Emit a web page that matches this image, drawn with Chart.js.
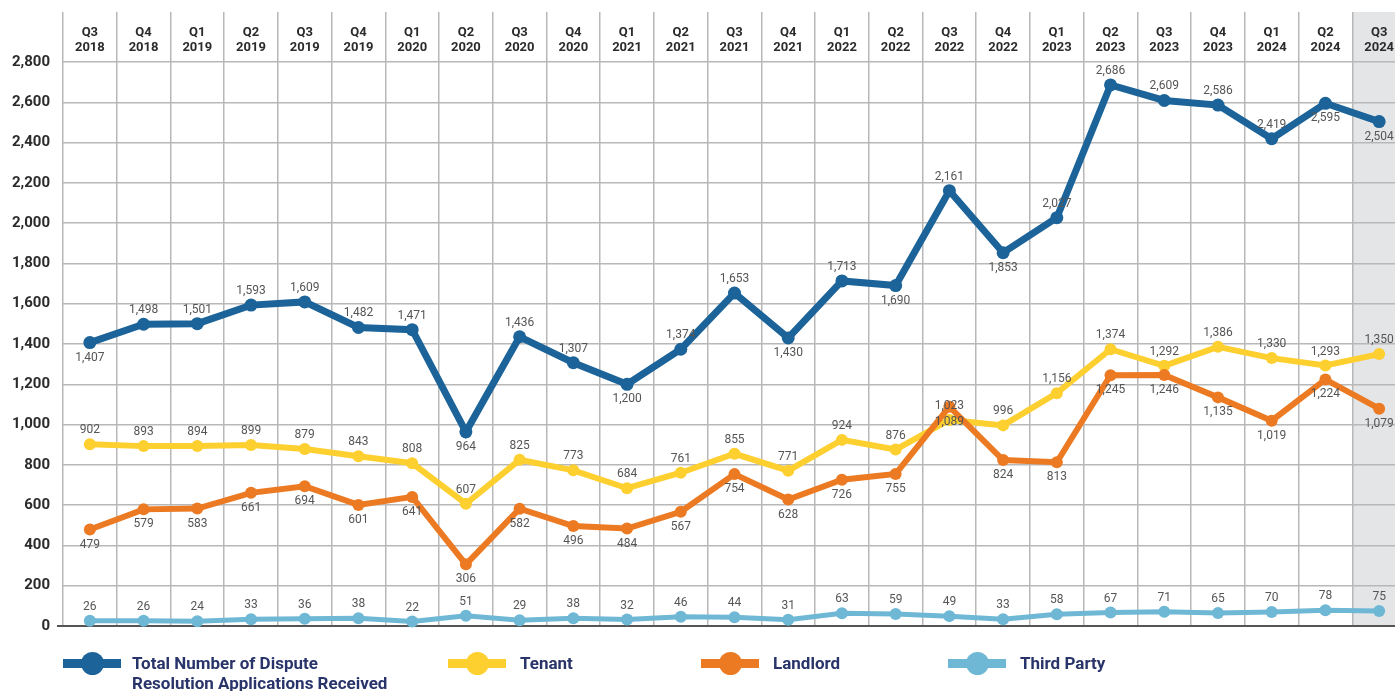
<!DOCTYPE html>
<html>
<head>
<meta charset="utf-8">
<title>Dispute Resolution Applications</title>
<script src="https://cdn.jsdelivr.net/npm/chart.js@4.4.1/dist/chart.umd.min.js"></script>
<style>
    html, body { margin: 0; padding: 0; background: #fff; overflow: hidden; }
    #wrap { position: relative; width: 1395px; height: 691px; overflow: hidden; }
    #c { position: absolute; left: 0; top: 0; }
    .item { position: absolute; top: 654px; }
    .bar { position: absolute; top: 5px; width: 58px; height: 9px; }
    .dot { position: absolute; top: -2px; left: 17.5px; width: 23px; height: 23px; border-radius: 50%; }
    .txt { position: absolute; top: -1px; white-space: nowrap; font: bold 17px Roboto, sans-serif; line-height: 20px; color: #29346a; }
</style>
</head>
<body>
<div id="wrap">
    <canvas id="c" width="1406" height="691"></canvas>
    <div id="legend"></div>
</div>
<script>
var quarters = ['Q3 2018', 'Q4 2018', 'Q1 2019', 'Q2 2019', 'Q3 2019', 'Q4 2019', 'Q1 2020', 'Q2 2020',
    'Q3 2020', 'Q4 2020', 'Q1 2021', 'Q2 2021', 'Q3 2021', 'Q4 2021', 'Q1 2022', 'Q2 2022',
    'Q3 2022', 'Q4 2022', 'Q1 2023', 'Q2 2023', 'Q3 2023', 'Q4 2023', 'Q1 2024', 'Q2 2024', 'Q3 2024'];

var total = [1407, 1498, 1501, 1593, 1609, 1482, 1471, 964, 1436, 1307, 1200, 1374, 1653,
    1430, 1713, 1690, 2161, 1853, 2027, 2686, 2609, 2586, 2419, 2595, 2504];
var tenant = [902, 893, 894, 899, 879, 843, 808, 607, 825, 773, 684, 761, 855,
    771, 924, 876, 1023, 996, 1156, 1374, 1292, 1386, 1330, 1293, 1350];
var landlord = [479, 579, 583, 661, 694, 601, 641, 306, 582, 496, 484, 567, 754,
    628, 726, 755, 1089, 824, 813, 1245, 1246, 1135, 1019, 1224, 1079];
var thirdParty = [26, 26, 24, 33, 36, 38, 22, 51, 29, 38, 32, 46, 44,
    31, 63, 59, 49, 33, 58, 67, 71, 65, 70, 78, 75];

var yMax = 2800;
var yStep = 200;

// indexes of the total series whose value sits under the point
var totalBelow = [0, 7, 10, 13, 15, 17, 23, 24];

var series = [
    { name: 'Total Number of Dispute\nResolution Applications Received', data: total, color: '#1b6399', width: 7, order: 0, below: function(i) { return totalBelow.indexOf(i) >= 0; } },
    { name: 'Tenant', data: tenant, color: '#fdcf2f', width: 6, order: 2, below: function() { return false; } },
    { name: 'Landlord', data: landlord, color: '#ec7a22', width: 6, order: 1, below: function() { return true; } },
    { name: 'Third Party', data: thirdParty, color: '#6eb8d5', width: 5, order: 3, below: function() { return false; } }
];

var fmt = function(v) { return Number(v).toLocaleString('en-US'); };

var shadeLast = {
    id: 'shadeLast',
    beforeDraw: function(chart) {
        var x = chart.scales.x, area = chart.chartArea, ctx = chart.ctx;
        var half = (x.getPixelForValue(1) - x.getPixelForValue(0)) / 2;
        var cx = x.getPixelForValue(quarters.length - 1);
        ctx.save();
        ctx.fillStyle = '#e4e5e7';
        ctx.fillRect(cx - half, x.bottom - 50, half * 2, area.bottom - x.bottom + 50);
        ctx.restore();
    }
};

var valueLabels = {
    id: 'valueLabels',
    afterDatasetsDraw: function(chart) {
        var ctx = chart.ctx;
        ctx.save();
        ctx.font = '12px Roboto, sans-serif';
        ctx.fillStyle = '#555';
        ctx.textAlign = 'center';
        ctx.textBaseline = 'middle';
        series.forEach(function(s, di) {
            chart.getDatasetMeta(di).data.forEach(function(pt, i) {
                var dy = s.below(i) ? 15 : -14;
                ctx.fillText(fmt(s.data[i]), pt.x, pt.y + dy);
            });
        });
        ctx.restore();
    }
};

new Chart(document.getElementById('c'), {
    type: 'line',
    data: {
        labels: quarters.map(function(q) { return q.split(' '); }),
        datasets: series.map(function(s) {
            return {
                label: s.name,
                data: s.data,
                borderColor: s.color,
                backgroundColor: s.color,
                borderWidth: s.width,
                pointRadius: s.width === 7 ? 6.5 : 6,
                pointBorderWidth: 0,
                pointBackgroundColor: s.color,
                tension: 0,
                order: s.order,
                clip: false
            };
        })
    },
    options: {
        responsive: false,
        devicePixelRatio: 1,
        animation: false,
        layout: { autoPadding: false, padding: { top: 12, bottom: 65, left: 0, right: 0 } },
        plugins: {
            legend: { display: false },
            tooltip: { enabled: false }
        },
        scales: {
            x: {
                position: 'top',
                offset: true,
                afterFit: function(s) { s.height = 50; },
                grid: { offset: true, color: '#b8b8b8', lineWidth: 1.5, tickLength: 50 },
                border: { display: false },
                ticks: {
                    padding: -43,
                    maxRotation: 0,
                    autoSkip: false,
                    color: '#2b2b2b',
                    font: { family: 'Roboto', weight: 'bold', size: 13, lineHeight: 1.15 }
                }
            },
            y: {
                min: 0,
                max: yMax,
                afterFit: function(s) { s.width = 63; },
                grid: {
                    color: function(c) { return c.tick && c.tick.value === 0 ? '#555' : '#b8b8b8'; },
                    lineWidth: function(c) { return c.tick && c.tick.value === 0 ? 2 : 1.5; },
                    tickColor: function(c) { return c.tick && c.tick.value === 0 ? '#555' : 'rgba(0,0,0,0)'; },
                    tickLength: 6
                },
                border: { display: false },
                ticks: {
                    stepSize: yStep,
                    padding: 7,
                    color: '#2b2b2b',
                    font: { family: 'Roboto', weight: 'bold', size: 15 },
                    callback: function(v) { return fmt(v); }
                }
            }
        }
    },
    plugins: [shadeLast, valueLabels]
});

var legendLeft = [63, 448, 701, 948];
var legend = document.getElementById('legend');
series.forEach(function(s, i) {
    var item = document.createElement('div');
    item.className = 'item';
    item.style.left = legendLeft[i] + 'px';
    item.innerHTML = '<div class="bar" style="background:' + s.color + '"></div>' +
        '<div class="dot" style="background:' + s.color + '"></div>' +
        '<div class="txt" style="left:' + (i === 0 ? 69 : 72) + 'px"></div>';
    item.querySelector('.txt').innerText = s.name;
    legend.appendChild(item);
});
</script>
</body>
</html>
